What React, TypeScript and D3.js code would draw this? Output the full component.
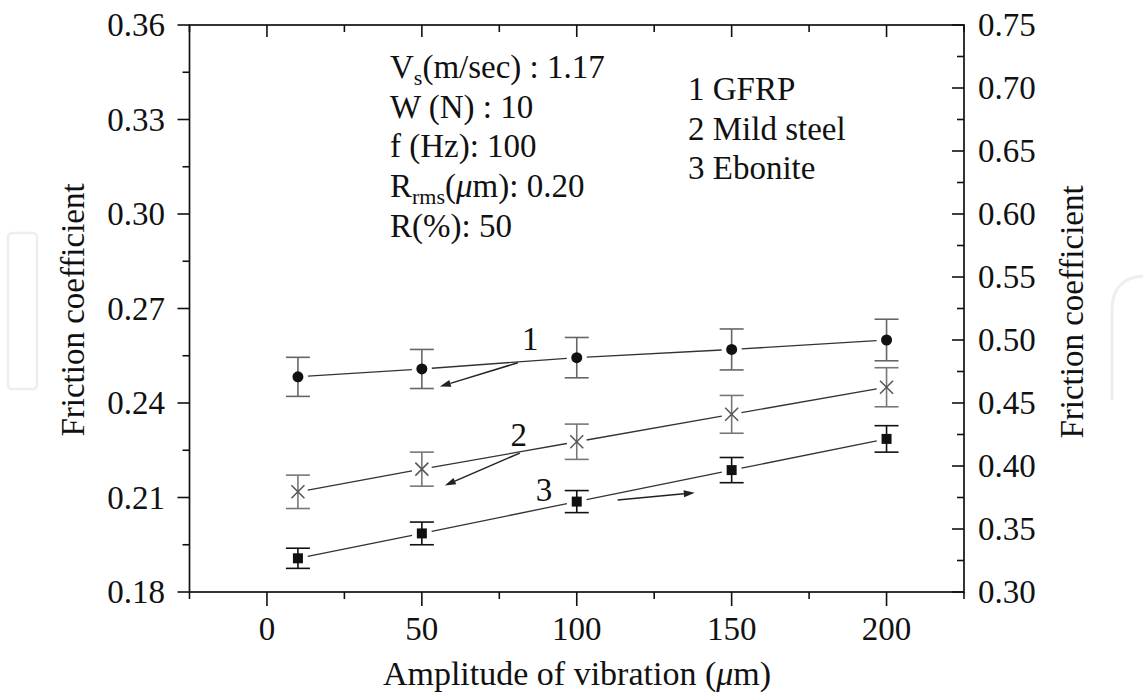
import React from "react";
import * as d3 from "d3";

// ---------- data ----------
const amplitudes = [10, 50, 100, 150, 200];
const gfrp = [0.2483, 0.2508, 0.2544, 0.257, 0.26];
const gfrpErr = [0.0062, 0.0062, 0.0064, 0.0065, 0.0066];
const mildSteel = [0.2118, 0.219, 0.2277, 0.2364, 0.245];
const mildSteelErr = [0.0053, 0.0054, 0.0056, 0.006, 0.0062];
const ebonite = [0.1907, 0.1986, 0.2087, 0.2187, 0.2286];
const eboniteErr = [0.0032, 0.0036, 0.0035, 0.004, 0.0042];

const xMajorTicks = [0, 50, 100, 150, 200];
const xMinorTicks = [-25, 25, 75, 125, 175, 225];
const yLeftMajor = [0.18, 0.21, 0.24, 0.27, 0.3, 0.33, 0.36];
const yLeftMinor = [0.195, 0.225, 0.255, 0.285, 0.315, 0.345];
const yRightMajor = [0.3, 0.35, 0.4, 0.45, 0.5, 0.55, 0.6, 0.65, 0.7, 0.75];
const yRightMinor = [0.325, 0.375, 0.425, 0.475, 0.525, 0.575, 0.625, 0.675, 0.725];

const legendItems = ["1 GFRP", "2 Mild steel", "3 Ebonite"];

// annotation labels and arrows in data units: [x, y]
const seriesLabels = [
  { text: "1", x: 85, y: 0.2568 },
  { text: "2", x: 81.3, y: 0.2263 },
  { text: "3", x: 89.4, y: 0.2089 },
];
const arrows = [
  { from: [81, 0.2528], to: [55.8, 0.2452] },
  { from: [81.6, 0.2241], to: [57.4, 0.2138] },
  { from: [113.2, 0.2092], to: [138.1, 0.2115] },
];

// ---------- layout ----------
const W = 1143;
const H = 694;
const L = 189.5;
const R = 964;
const T = 25;
const B = 592;
const FONT = '"Liberation Serif", "Times New Roman", Times, serif';
const FS = 33;

const x = d3.scaleLinear().domain([-25, 225]).range([L, R]);
const y = d3.scaleLinear().domain([0.18, 0.36]).range([B, T]);
const yR = d3.scaleLinear().domain([0.3, 0.75]).range([B, T]);

function Series({ vals, errs, marker, errColor, lineColor }) {
  const pts = amplitudes.map((a, i) => [x(a), y(vals[i])]);
  const gap = 10;
  const segs = [];
  for (let i = 0; i < pts.length - 1; i++) {
    const [x1, y1] = pts[i];
    const [x2, y2] = pts[i + 1];
    const len = Math.hypot(x2 - x1, y2 - y1);
    const ux = (x2 - x1) / len;
    const uy = (y2 - y1) / len;
    segs.push(
      <line
        key={"s" + i}
        x1={x1 + ux * gap}
        y1={y1 + uy * gap}
        x2={x2 - ux * gap}
        y2={y2 - uy * gap}
        stroke={lineColor}
        strokeWidth={1.3}
      />
    );
  }
  const cap = 12;
  return (
    <g>
      {segs}
      {amplitudes.map((a, i) => {
        const cx = x(a);
        const yt = y(vals[i] + errs[i]);
        const yb = y(vals[i] - errs[i]);
        return (
          <g key={"e" + i} stroke={errColor} strokeWidth={1.6}>
            <line x1={cx} x2={cx} y1={yt} y2={yb} />
            <line x1={cx - cap} x2={cx + cap} y1={yt} y2={yt} />
            <line x1={cx - cap} x2={cx + cap} y1={yb} y2={yb} />
          </g>
        );
      })}
      {pts.map(([px, py], i) => {
        if (marker === "circle")
          return <circle key={"m" + i} cx={px} cy={py} r={5.5} fill="#111" />;
        if (marker === "square")
          return <rect key={"m" + i} x={px - 5} y={py - 5} width={10} height={10} fill="#111" />;
        const s = 6.5;
        return (
          <g key={"m" + i} stroke="#555" strokeWidth={1.5}>
            <line x1={px - s} y1={py - s} x2={px + s} y2={py + s} />
            <line x1={px - s} y1={py + s} x2={px + s} y2={py - s} />
          </g>
        );
      })}
    </g>
  );
}

function Arrow({ from, to }) {
  const x1 = x(from[0]);
  const y1 = y(from[1]);
  const x2 = x(to[0]);
  const y2 = y(to[1]);
  const len = Math.hypot(x2 - x1, y2 - y1);
  const ux = (x2 - x1) / len;
  const uy = (y2 - y1) / len;
  const hl = 11;
  const hw = 3.5;
  const bx = x2 - ux * hl;
  const by = y2 - uy * hl;
  const head = `M${x2},${y2} L${bx - uy * hw},${by + ux * hw} L${bx + uy * hw},${by - ux * hw} Z`;
  return (
    <g>
      <line x1={x1} y1={y1} x2={bx} y2={by} stroke="#222" strokeWidth={1.5} />
      <path d={head} fill="#222" />
    </g>
  );
}

const txt = { fontFamily: FONT };

export default function App() {
  const textBlockX = 390;
  const lineH = 39.7;
  const tb0 = 78;
  return (
    <svg
      width={W}
      height={H}
      viewBox={`0 0 ${W} ${H}`}
      style={{ position: "absolute", left: 0, top: 0, background: "#fff", fontFamily: FONT }}
    >
      <rect x={0} y={0} width={W} height={H} fill="#fff" />
      {/* faint watermark shapes */}
      <rect x={8} y={233} width={29} height={156} rx={4} fill="none" stroke="#eeeeee" strokeWidth={2.5} />
      <path d="M1112,400 L1112,310 Q1112,278 1143,276" fill="none" stroke="#eeeeee" strokeWidth={3} />

      {/* frame */}
      <rect x={L} y={T} width={R - L} height={B - T} fill="none" stroke="#111" strokeWidth={1.7} />

      {/* bottom ticks (outward) */}
      {xMajorTicks.map((t) => (
        <line key={"bx" + t} x1={x(t)} x2={x(t)} y1={B} y2={B + 14} stroke="#111" strokeWidth={1.6} />
      ))}
      {xMinorTicks.map((t) => (
        <line key={"bxm" + t} x1={x(t)} x2={x(t)} y1={B} y2={B + 7} stroke="#111" strokeWidth={1.6} />
      ))}
      {/* top ticks (inward) */}
      {xMajorTicks.map((t) => (
        <line key={"tx" + t} x1={x(t)} x2={x(t)} y1={T} y2={T + 12} stroke="#111" strokeWidth={1.6} />
      ))}
      {xMinorTicks.map((t) => (
        <line key={"txm" + t} x1={x(t)} x2={x(t)} y1={T} y2={T + 7} stroke="#111" strokeWidth={1.6} />
      ))}
      {/* left ticks (outward) */}
      {yLeftMajor.map((t) => (
        <line key={"ly" + t} x1={L - 12} x2={L} y1={y(t)} y2={y(t)} stroke="#111" strokeWidth={1.6} />
      ))}
      {yLeftMinor.map((t) => (
        <line key={"lym" + t} x1={L - 7} x2={L} y1={y(t)} y2={y(t)} stroke="#111" strokeWidth={1.6} />
      ))}
      {/* right ticks (inward) */}
      {yRightMajor.map((t) => (
        <line key={"ry" + t} x1={R - 12} x2={R} y1={yR(t)} y2={yR(t)} stroke="#111" strokeWidth={1.6} />
      ))}
      {yRightMinor.map((t) => (
        <line key={"rym" + t} x1={R - 7} x2={R} y1={yR(t)} y2={yR(t)} stroke="#111" strokeWidth={1.6} />
      ))}

      {/* tick labels */}
      <g fontSize={FS} fill="#111" style={txt}>
        {xMajorTicks.map((t) => (
          <text key={"xl" + t} x={x(t)} y={640} textAnchor="middle" style={txt}>
            {t}
          </text>
        ))}
        {yLeftMajor.map((t) => (
          <text key={"yl" + t} x={165} y={y(t) + 11} textAnchor="end" style={txt}>
            {t.toFixed(2)}
          </text>
        ))}
        {yRightMajor.map((t) => (
          <text key={"yr" + t} x={978} y={yR(t) + 11} textAnchor="start" style={txt}>
            {t.toFixed(2)}
          </text>
        ))}
      </g>

      {/* axis titles */}
      <text x={577} y={685} fontSize={34} textAnchor="middle" fill="#111" style={txt}>
        Amplitude of vibration (<tspan fontStyle="italic">μ</tspan>m)
      </text>
      <text transform="translate(84,310) rotate(-90)" fontSize={FS} textAnchor="middle" fill="#111" style={txt}>
        Friction coefficient
      </text>
      <text transform="translate(1083,312) rotate(-90)" fontSize={FS} textAnchor="middle" fill="#111" style={txt}>
        Friction coefficient
      </text>

      {/* condition text block */}
      <g fontSize={FS} fill="#111" style={txt}>
        <text x={textBlockX} y={tb0} style={txt}>
          V<tspan fontSize={22} dy={7}>s</tspan>
          <tspan dy={-7}>(m/sec) : 1.17</tspan>
        </text>
        <text x={textBlockX} y={tb0 + lineH} style={txt}>W (N) : 10</text>
        <text x={textBlockX} y={tb0 + 2 * lineH} style={txt}>f (Hz): 100</text>
        <text x={textBlockX} y={tb0 + 3 * lineH} style={txt}>
          R<tspan fontSize={22} dy={7}>rms</tspan>
          <tspan dy={-7}>(</tspan>
          <tspan fontStyle="italic">μ</tspan>m): 0.20
        </text>
        <text x={textBlockX} y={tb0 + 4 * lineH} style={txt}>R(%): 50</text>
      </g>

      {/* legend text */}
      <g fontSize={FS} fill="#111" style={txt}>
        {legendItems.map((s, i) => (
          <text key={s} x={688} y={100 + i * 39.5} style={txt}>
            {s}
          </text>
        ))}
      </g>

      {/* series */}
      <Series vals={gfrp} errs={gfrpErr} marker="circle" errColor="#666" lineColor="#333" />
      <Series vals={mildSteel} errs={mildSteelErr} marker="cross" errColor="#777" lineColor="#333" />
      <Series vals={ebonite} errs={eboniteErr} marker="square" errColor="#111" lineColor="#333" />

      {/* annotations */}
      {arrows.map((a, i) => (
        <Arrow key={"a" + i} from={a.from} to={a.to} />
      ))}
      <g fontSize={FS} fill="#111" style={txt}>
        {seriesLabels.map((l) => (
          <text key={l.text} x={x(l.x)} y={y(l.y)} textAnchor="middle" style={txt}>
            {l.text}
          </text>
        ))}
      </g>
    </svg>
  );
}
